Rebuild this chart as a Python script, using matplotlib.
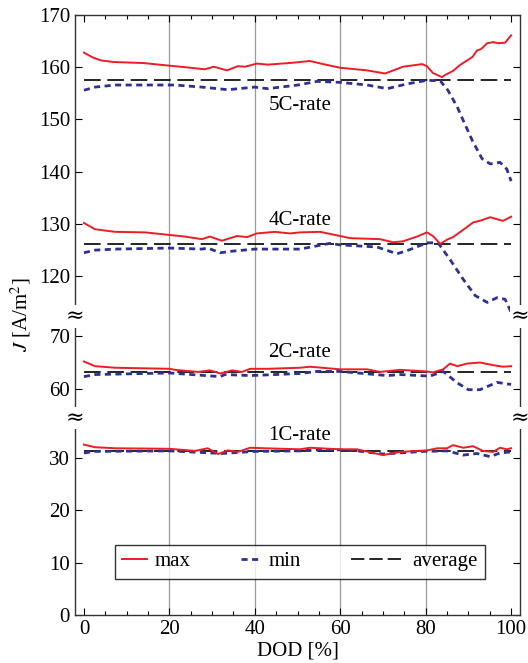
import numpy as np
import matplotlib
matplotlib.use("Agg")
import matplotlib.pyplot as plt
from matplotlib.lines import Line2D
from matplotlib.legend_handler import HandlerLine2D

plt.rcParams['font.family'] = ['Liberation Serif', 'DejaVu Serif']
plt.rcParams['mathtext.fontset'] = 'stix'

# current density vs depth of discharge, four C-rates
dod_5c_max = [0, 2, 4, 7, 14, 20, 25, 28.3, 30.4, 33.5, 36, 37.7, 40.5, 43, 48, 50.6, 52.9, 56, 60, 66.3,
              70.5, 74.7, 79.2, 80.3, 81.7, 83.8, 84.5, 86.4, 88, 89.7, 91, 92, 93, 94.4, 95.8, 97, 98.6, 99, 100]
j_5c_max = [162.8, 161.9, 161.3, 161.0, 160.8, 160.3, 159.9, 159.6, 160.1, 159.4, 160.2, 160.1, 160.7, 160.5,
            160.8, 161.0, 161.2, 160.6, 159.9, 159.4, 158.8, 160.1, 160.6, 160.2, 158.9, 158.1, 158.5, 159.3,
            160.4, 161.3, 162.0, 163.2, 163.5, 164.6, 164.8, 164.6, 164.7, 165.1, 166.1]
dod_5c_min = [0, 2.6, 7.3, 21.3, 27.6, 33.7, 40, 43, 50.1, 54.6, 60, 66.3, 71, 75.6, 80.3, 83.4, 85.2, 87.4,
              88.8, 90.9, 93.2, 95.1, 97.4, 99, 100]
j_5c_min = [155.6, 156.2, 156.6, 156.6, 156.2, 155.7, 156.2, 155.9, 156.6, 157.3, 157.1, 156.6, 155.9, 156.8,
            157.5, 157.4, 155.6, 152.4, 149.8, 146.0, 142.5, 141.5, 141.8, 140.5, 138.2]

dod_4c_max = [0, 2.6, 7.3, 14.3, 20.1, 23.6, 27.6, 29.5, 32.3, 35.8, 38.2, 40.5, 44.7, 48.2, 50.6, 55.3, 60,
              62.3, 69.3, 72.4, 74.7, 78, 80.3, 81.7, 83.4, 85, 86.4, 88.8, 91.1, 93, 95.1, 98.1, 100]
j_4c_max = [130.2, 129.0, 128.5, 128.4, 127.9, 127.6, 127.1, 127.6, 126.8, 127.7, 127.5, 128.2, 128.5, 128.2,
            128.4, 128.5, 127.7, 127.3, 127.1, 126.5, 126.7, 127.6, 128.4, 127.7, 126.2, 127.0, 127.5, 128.9,
            130.3, 130.7, 131.3, 130.6, 131.4]
dod_4c_min = [0, 2.6, 7.3, 20.1, 27.6, 29, 31.9, 34.7, 40, 50.6, 57.6, 60, 68.6, 73.3, 76.3, 80.3, 82.9, 85.7,
              88.8, 91.6, 94.4, 96.7, 98.6, 100]
j_4c_min = [124.5, 125.0, 125.2, 125.4, 125.2, 125.4, 124.5, 124.8, 125.2, 125.2, 126.3, 126.0, 125.6, 124.3,
            125.1, 126.4, 126.4, 123.2, 119.4, 116.3, 115.0, 115.9, 115.6, 113.1]

dod_2c_max = [0, 2.6, 7.3, 20.1, 21.3, 26.7, 29.5, 31.9, 34.7, 37, 38.9, 43, 50.6, 52.9, 60, 66.3, 69.3, 74,
              80.3, 81.7, 84.1, 85.7, 87.4, 89.7, 92.7, 95.8, 98.1, 100]
j_2c_max = [65.2, 64.3, 64.0, 63.8, 63.6, 63.2, 63.5, 62.9, 63.5, 63.2, 63.8, 63.8, 64.0, 64.2, 63.7, 63.7,
            63.2, 63.6, 63.3, 63.1, 63.7, 64.8, 64.3, 64.8, 65.0, 64.5, 64.2, 64.3]
dod_2c_min = [0, 2.6, 20.1, 31.9, 33, 38.9, 50.6, 54.6, 60, 71, 74, 81, 84.1, 87.4, 90, 92.7, 96.7, 100]
j_2c_min = [62.3, 62.7, 63.0, 62.3, 62.7, 62.5, 62.9, 63.3, 63.3, 62.5, 62.7, 62.4, 63.3, 61.1, 59.8, 59.8,
            61.2, 60.8]

dod_1c_max = [0, 2.6, 7.3, 20, 26, 29, 31.4, 33.7, 36, 38.9, 42.4, 50.6, 52.9, 60, 63.9, 70, 74, 80.3, 82.7,
              85, 86.4, 88.8, 91.1, 93.4, 95.8, 97.4, 99, 100]
j_1c_max = [32.6, 32.1, 31.9, 31.8, 31.4, 31.9, 30.8, 31.5, 31.2, 32.0, 31.9, 31.7, 32.0, 31.7, 31.7, 30.6,
            31.2, 31.5, 31.9, 31.9, 32.5, 32.0, 32.3, 31.4, 31.2, 32.0, 31.7, 31.9]
dod_1c_min = [0, 2.6, 20, 32.3, 40, 50.6, 56, 63, 70, 79.4, 85, 88.8, 92, 95.1, 97.4, 100]
j_1c_min = [31.0, 31.3, 31.4, 30.9, 31.3, 31.4, 31.7, 31.5, 30.8, 31.3, 31.4, 30.6, 30.9, 30.3, 31.0, 31.2]

rates = ['5C-rate', '4C-rate', '2C-rate', '1C-rate']
j_avg = [157.6, 126.1, 63.1, 31.4]
label_y = [152.7, 130.6, 66.9, 34.4]

y_ticks = [0, 10, 20, 30, 60, 70, 120, 130, 140, 150, 160, 170]

# broken y axis: three linear pieces squeezed together
real_pts = [0, 37.7, 54.4, 73.8, 112.3, 170]
disp_pts = [0, 37.7, 37.71, 57.1, 57.11, 114.8]


def fwd(y):
    return np.interp(y, real_pts, disp_pts)


def inv(u):
    return np.interp(u, disp_pts, real_pts)


class WidthHandler(HandlerLine2D):
    """legend line handler with its own handle length (in font sizes)"""

    def __init__(self, length, **kw):
        super().__init__(**kw)
        self.length = length

    def legend_artist(self, legend, orig_handle, fontsize, handlebox):
        handlebox.width = self.length * fontsize
        return super().legend_artist(legend, orig_handle, fontsize, handlebox)


RED = '#ee1c25'
BLUE = '#2e3192'

fig = plt.figure(figsize=(5.28, 6.63), dpi=100)
ax = fig.add_axes([0.142, 0.0724, 0.843, 0.905])
ax.set_yscale('function', functions=(fwd, inv))

for gx in [20, 40, 60, 80]:
    ax.axvline(gx, color='#9a9a9a', lw=0.9, zorder=0)

series = [(dod_5c_max, j_5c_max, dod_5c_min, j_5c_min),
          (dod_4c_max, j_4c_max, dod_4c_min, j_4c_min),
          (dod_2c_max, j_2c_max, dod_2c_min, j_2c_min),
          (dod_1c_max, j_1c_max, dod_1c_min, j_1c_min)]

for (xa, ya, xb, yb), avg, name, ly in zip(series, j_avg, rates, label_y):
    ax.plot([0, 100], [avg, avg], color='black', lw=1.2, dashes=(10, 4), zorder=2)
    ax.plot(xb, yb, color=BLUE, lw=2.0, dashes=(2.2, 1.6), zorder=3)
    ax.plot(xa, ya, color=RED, lw=1.4, zorder=4)
    ax.text(50.5, ly, name, ha='center', va='center', fontsize=15)

ax.set_xlim(-2.1, 102.1)
ax.set_ylim(0, 170)
ax.set_xticks([0, 20, 40, 60, 80, 100])
ax.set_xticks(np.arange(0, 101, 5), minor=True)
ax.set_yticks(y_ticks)
ax.set_yticklabels([str(t) for t in y_ticks])
ax.yaxis.set_minor_locator(matplotlib.ticker.NullLocator())
ax.tick_params(which='both', direction='in', top=True, right=True, labelsize=15, width=0.8)
ax.tick_params(which='major', length=5)
ax.tick_params(which='minor', length=3)
for s in ax.spines.values():
    s.set_color('#333333')
    s.set_linewidth(1.0)

# break marks on both spines
for yb in [37.705, 112.305]:
    for xb in [0, 1]:
        ax.text(xb, yb, '≈', transform=ax.get_yaxis_transform(), ha='center', va='center',
                fontsize=16, family='DejaVu Serif', clip_on=False, zorder=10,
                bbox=dict(facecolor='white', edgecolor='none', pad=0.3))

ax.set_xlabel('DOD [%]', fontsize=15, labelpad=2)
ax.set_ylabel('$J$ [A/m$^2$]', fontsize=15, labelpad=4)

h_max = Line2D([], [], color=RED, lw=1.4)
h_min = Line2D([], [], color=BLUE, lw=2.0, dashes=(2.2, 1.6))
h_avg = Line2D([], [], color='black', lw=1.2, dashes=(8, 3))
leg = ax.legend([h_max, h_min, h_avg], ['max', 'min', 'average'], loc='center',
                bbox_to_anchor=(0.506, 0.089), ncol=3, fontsize=15, frameon=True, fancybox=False,
                handler_map={h_max: WidthHandler(1.2), h_min: WidthHandler(1.0), h_avg: WidthHandler(2.6)},
                columnspacing=2.4, handletextpad=0.35, borderpad=0.35)
leg.get_frame().set_edgecolor('black')
leg.get_frame().set_linewidth(1.0)

fig.savefig('out.png', dpi=100)
